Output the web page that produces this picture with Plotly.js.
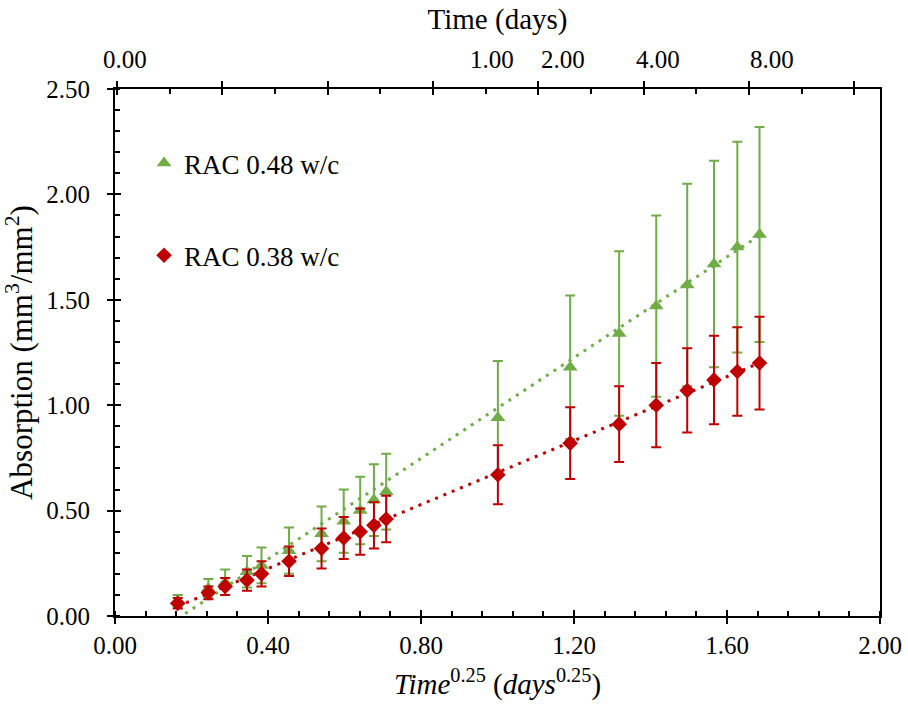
<!DOCTYPE html>
<html>
<head>
<meta charset="utf-8">
<script src="https://cdn.plot.ly/plotly-3.0.1.min.js"></script>
<style>html,body{margin:0;padding:0;background:#fff;}#chart{width:908px;height:709px;}</style>
</head>
<body>
<div id="chart"></div>
<script>
// ---- data ----
const timeQuarter = [0.164, 0.244, 0.288, 0.345, 0.383, 0.455, 0.540, 0.598, 0.641, 0.677, 0.709, 1.001, 1.190, 1.318, 1.415, 1.496, 1.566, 1.627, 1.685];
const rac048 = [0.07, 0.13, 0.16, 0.21, 0.24, 0.31, 0.39, 0.45, 0.50, 0.55, 0.59, 0.94, 1.18, 1.34, 1.47, 1.57, 1.67, 1.75, 1.81];
const rac048Err = [0.03, 0.045, 0.06, 0.075, 0.085, 0.11, 0.13, 0.15, 0.16, 0.17, 0.18, 0.27, 0.34, 0.39, 0.43, 0.48, 0.49, 0.50, 0.51];
const rac038 = [0.06, 0.11, 0.14, 0.17, 0.20, 0.26, 0.32, 0.37, 0.40, 0.43, 0.46, 0.67, 0.82, 0.91, 1.00, 1.07, 1.12, 1.16, 1.20];
const rac038Err = [0.025, 0.03, 0.04, 0.05, 0.06, 0.07, 0.095, 0.10, 0.11, 0.11, 0.11, 0.14, 0.17, 0.18, 0.20, 0.20, 0.21, 0.21, 0.22];
const trendX = [0.164, 1.685];
const trend048 = [-0.012, 1.805];
const trend038 = [0.046, 1.200];
const seriesNames = ["RAC 0.48 w/c", "RAC 0.38 w/c"];
const topLabels = ["0.00", "1.00", "2.00", "4.00", "8.00"];

// ---- layout helpers (positions, not data) ----
const topLabelPx = [125, 492, 563, 658, 772];
const plotL = 115, plotR = 880;
const GREEN = "#70AD47", RED = "#C00000";
const SERIF = "Liberation Serif";

const traces = [
  {x: trendX, y: trend048, mode: "lines", line: {color: GREEN, width: 3, dash: "3px,6px"}, showlegend: false, hoverinfo: "skip"},
  {x: trendX, y: trend038, mode: "lines", line: {color: RED, width: 3, dash: "3px,6px"}, showlegend: false, hoverinfo: "skip"},
  {x: timeQuarter, y: rac048, name: seriesNames[0], mode: "markers", legendgroup: "a",
   marker: {symbol: "triangle-up", size: 13, color: GREEN},
   error_y: {type: "data", array: rac048Err, visible: true, color: GREEN, thickness: 2, width: 5}},
  {x: timeQuarter, y: rac038, name: seriesNames[1], mode: "markers", legendgroup: "b",
   marker: {symbol: "diamond", size: 12, color: RED},
   error_y: {type: "data", array: rac038Err, visible: true, color: RED, thickness: 2, width: 5}},
  // helper traces so the overlay axes get drawn
  {x: [], y: [], xaxis: "x2", yaxis: "y", showlegend: false, hoverinfo: "skip"},
  {x: [], y: [], xaxis: "x3", yaxis: "y", showlegend: false, hoverinfo: "skip"},
  {x: [], y: [], xaxis: "x4", yaxis: "y", showlegend: false, hoverinfo: "skip"},
  {x: [], y: [], xaxis: "x", yaxis: "y2", showlegend: false, hoverinfo: "skip"}
];

const tickFont = {family: SERIF, size: 25, color: "#000"};
const plainOverlay = {showgrid: false, zeroline: false, showticklabels: false, showline: false, ticklen: 6, tickwidth: 2, tickcolor: "#000", fixedrange: true};

const annotations = topLabels.map((t, i) => ({
  text: t, xref: "paper", yref: "paper",
  x: (topLabelPx[i] - plotL) / (plotR - plotL), y: 1.056,
  xanchor: "center", yanchor: "middle", showarrow: false,
  font: {family: SERIF, size: 25, color: "#000"}
}));

const layout = {
  width: 908, height: 709,
  margin: {l: 115, r: 28, t: 89, b: 93},
  paper_bgcolor: "#fff", plot_bgcolor: "#fff",
  font: {family: SERIF, color: "#000"},
  showlegend: true,
  legend: {x: 0.038, y: 0.905, xanchor: "left", yanchor: "top", bgcolor: "rgba(0,0,0,0)",
           font: {family: SERIF, size: 27, color: "#000"}, traceorder: "grouped", tracegroupgap: 54},
  xaxis: {range: [0, 2], dtick: 0.4, tick0: 0, tickformat: ".2f", ticks: "outside", ticklen: 6, tickwidth: 2, tickcolor: "#000",
          minor: {dtick: 0.08, ticks: "inside", ticklen: 5, tickwidth: 2, tickcolor: "#000"},
          showline: true, linewidth: 2, linecolor: "#000", showgrid: false, zeroline: false, tickfont: tickFont,
          title: {text: "<i>Time</i><sup>0.25</sup> (<i>days</i><sup>0.25</sup>)", font: {family: SERIF, size: 29, color: "#000"}, standoff: 16}},
  xaxis3: Object.assign({overlaying: "x", anchor: "y", side: "bottom", range: [0, 2], dtick: 0.4, tick0: 0, ticks: "inside"}, plainOverlay),
  xaxis2: {overlaying: "x", anchor: "y", side: "top", range: [-0.02, 7.245], dtick: 1, tick0: 0, ticks: "outside", ticklen: 6, tickwidth: 2, tickcolor: "#000",
           minor: {dtick: 0.5, ticks: "inside", ticklen: 5, tickwidth: 2, tickcolor: "#000"},
           showline: true, linewidth: 2, linecolor: "#000", showgrid: false, zeroline: false, showticklabels: false,
           title: {text: "Time (days)", font: {family: SERIF, size: 29, color: "#000"}, standoff: 43}},
  xaxis4: Object.assign({overlaying: "x", anchor: "y", side: "top", range: [-0.02, 7.245], dtick: 1, tick0: 0, ticks: "inside"}, plainOverlay),
  yaxis: {range: [0, 2.5], dtick: 0.5, tick0: 0, tickformat: ".2f", ticks: "outside", ticklen: 6, tickwidth: 2, tickcolor: "#000",
          ticklabelstandoff: 12,
          minor: {dtick: 0.1, ticks: "inside", ticklen: 5, tickwidth: 2, tickcolor: "#000"},
          showline: true, mirror: true, linewidth: 2, linecolor: "#000", showgrid: false, zeroline: false, tickfont: tickFont,
          title: {text: "Absorption (mm<sup>3</sup>/mm<sup>2</sup>)", font: {family: SERIF, size: 31, color: "#000"}, standoff: 6}},
  yaxis2: Object.assign({overlaying: "y", anchor: "x", side: "left", range: [0, 2.5], dtick: 0.5, tick0: 0, ticks: "inside"}, plainOverlay),
  annotations: annotations
};

Plotly.newPlot("chart", traces, layout, {staticPlot: true, displayModeBar: false});
</script>
</body>
</html>
